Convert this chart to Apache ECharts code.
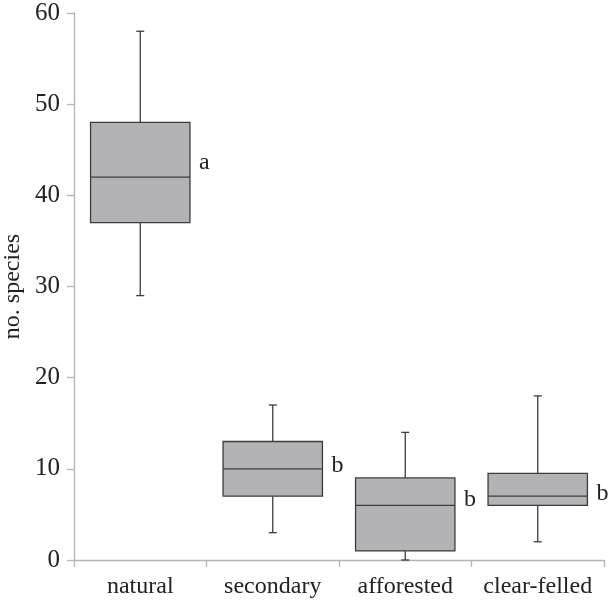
<!DOCTYPE html>
<html>
<head>
<meta charset="utf-8">
<style>
  html, body { margin: 0; padding: 0; background: #fff; }
  #chart { width: 609px; height: 602px; }
</style>
<script src="https://cdn.jsdelivr.net/npm/echarts@6/dist/echarts.min.js"></script>
</head>
<body>
<div id="chart"></div>
<script>
// habitat types
const categories = ['natural', 'secondary', 'afforested', 'clear-felled']
// five-number summaries
const whiskerLow = [29, 3, 0, 2]
const q1 = [37, 7, 1, 6]
const median = [42, 10, 6, 7]
const q3 = [48, 13, 9, 9.5]
const whiskerHigh = [58, 17, 14, 18]
// significance letters and the value they sit at
const letters = ['a', 'b', 'b', 'b']
const letterAt = [43.6, 10.3, 6.6, 7.3]

const FONT = '"Liberation Serif", "DejaVu Serif", serif'
const LINE = '#3c3c3c'
const FILL = '#b3b3b7'

const chart = echarts.init(document.getElementById('chart'))

function renderBox(params, api) {
  const i = api.value(0)
  const half = api.size([1, 0])[0] * 0.375
  const cap = 4
  const pLow = api.coord([i, api.value(1)])
  const pQ1 = api.coord([i, api.value(2)])
  const pMed = api.coord([i, api.value(3)])
  const pQ3 = api.coord([i, api.value(4)])
  const pHigh = api.coord([i, api.value(5)])
  const pLet = api.coord([i, api.value(6)])
  const x = pMed[0]
  const lineStyle = { stroke: LINE, lineWidth: 1.3, fill: null }
  return {
    type: 'group',
    children: [
      { type: 'line', shape: { x1: x, y1: pQ3[1], x2: x, y2: pHigh[1] }, style: lineStyle },
      { type: 'line', shape: { x1: x, y1: pQ1[1], x2: x, y2: pLow[1] }, style: lineStyle },
      { type: 'line', shape: { x1: x - cap, y1: pHigh[1], x2: x + cap, y2: pHigh[1] }, style: lineStyle },
      { type: 'line', shape: { x1: x - cap, y1: pLow[1], x2: x + cap, y2: pLow[1] }, style: lineStyle },
      {
        type: 'rect',
        shape: { x: x - half, y: pQ3[1], width: half * 2, height: pQ1[1] - pQ3[1] },
        style: { fill: FILL, stroke: LINE, lineWidth: 1.3 }
      },
      { type: 'line', shape: { x1: x - half, y1: pMed[1], x2: x + half, y2: pMed[1] }, style: lineStyle },
      {
        type: 'text',
        x: x + half + 9,
        y: pLet[1],
        style: {
          text: letters[i], fill: '#222', font: '24px ' + FONT,
          align: 'left', verticalAlign: 'middle'
        }
      }
    ]
  }
}

chart.setOption({
  animation: false,
  grid: { left: 74, right: 5, top: 13, bottom: 42, outerBoundsMode: 'none' },
  xAxis: {
    type: 'category',
    data: categories,
    axisLine: { lineStyle: { color: '#b4b4b4', width: 1.3 } },
    axisTick: { show: true, length: 7, lineStyle: { color: '#b4b4b4', width: 1.3 } },
    axisLabel: { color: '#222', fontFamily: FONT, fontSize: 24, margin: 15, interval: 0, hideOverlap: false }
  },
  yAxis: {
    type: 'value',
    min: 0, max: 60, interval: 10,
    name: 'no. species',
    nameLocation: 'middle',
    nameGap: 49,
    nameMoveOverlap: false,
    nameTextStyle: { color: '#222', fontFamily: FONT, fontSize: 24 },
    axisLine: { show: true, lineStyle: { color: '#b4b4b4', width: 1.3 } },
    axisTick: { show: true, length: 7, lineStyle: { color: '#b4b4b4', width: 1.3 } },
    axisLabel: { color: '#222', fontFamily: FONT, fontSize: 25, margin: 14 },
    splitLine: { show: false }
  },
  series: [{
    type: 'custom',
    renderItem: renderBox,
    encode: { x: 0, y: [1, 2, 3, 4, 5] },
    data: categories.map((c, i) => [i, whiskerLow[i], q1[i], median[i], q3[i], whiskerHigh[i], letterAt[i]])
  }]
})
</script>
</body>
</html>
